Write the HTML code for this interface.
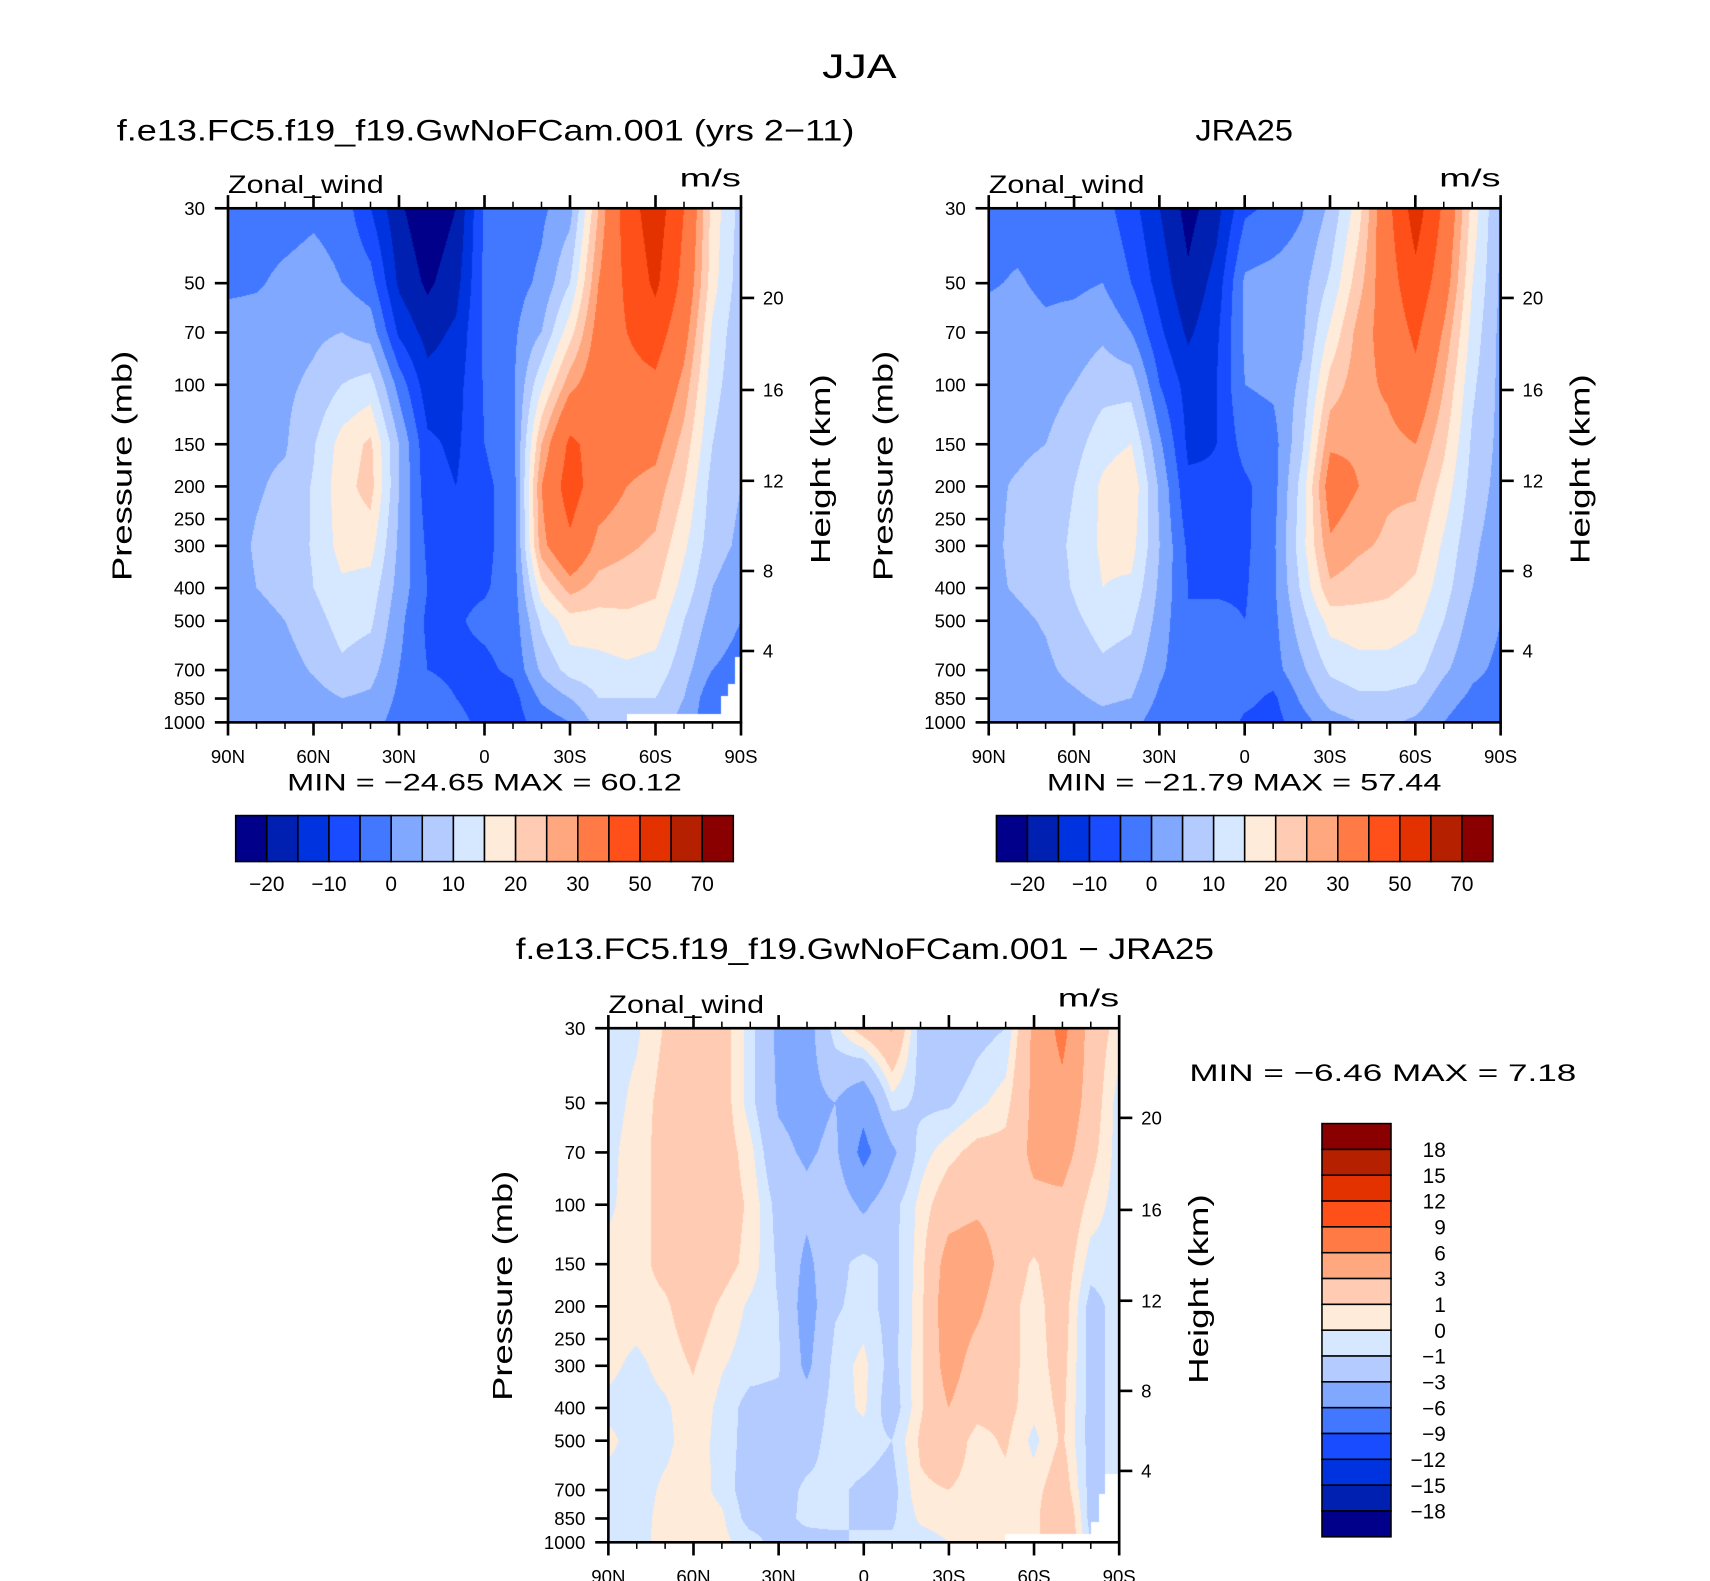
<!DOCTYPE html>
<html><head><meta charset="utf-8">
<style>
html,body{margin:0;padding:0;background:#fff;}
#root{position:relative;width:1710px;height:1581px;overflow:hidden;background:#fff;}
canvas{position:absolute;display:block;}
svg{position:absolute;left:0;top:0;}
text{font-family:"Liberation Sans",sans-serif;fill:#000;}
</style></head>
<body>
<div id="root">
<canvas id="c1"></canvas>
<canvas id="c2"></canvas>
<canvas id="c3"></canvas>
<svg id="svg" width="1710" height="1581" viewBox="0 0 1560 1442.3" preserveAspectRatio="none"></svg>
</div>
<script>
// ---------- data ----------
const lats = [90,80,70,60,50,40,30,20,10,0,-10,-20,-30,-40,-50,-60,-70,-80,-90];
const levels = [30,50,70,100,150,200,300,400,500,700,850,1000];
// model zonal wind, one row per latitude (90N..90S), values per level (30..1000 mb)
const modelU = [
[-2,-1,2,3,3,3,3,3,2.5,2,2,2],
[-2,-0.5,2,3,4,4.5,5.5,5,4,3,2,1],
[-2,1,3,4,4.5,6,7,6,5,3,2,0.5],
[-1,2,4,6,9.5,10.5,10.5,10,8,5.5,3,1],
[-2,0,5,10,17,18,17,14,12,9,5,2],
[-10,-3,3,12,21,22,17,13,11,7,4,2],
[-19,-16,-11,-2,5,5,4,3,1.5,0,-1,-2],
[-24,-21,-17,-13,-9,-8,-6,-5,-6,-5,-3,-3],
[-20,-17,-14,-12,-11,-10,-7,-6,-5.5,-6,-5,-3],
[-4,-4,-4,-4.5,-5,-6,-6,-5.5,-4,-6,-8,-7],
[-3,-2,-1,-1,-2,-3,-3,-3,-3,-4,-7,-7],
[-1,1,5,14,25,30,28,18,11,6,1,-3],
[3,10,18,28,42,45,38,27,18,12,5,0],
[25,30,33,35,36,34,28,23,18,13,10,7],
[45,42,40,37,33,30,26,22,19,14,10,7],
[56,52,45,38,32,28,24,21,18,13,10,8],
[40,37,33,28,23,20,16,13,10,7,5,3],
[18,17,14,12,10,8,7,5,3,0,-4,-4],
[8,7,6,6,5,5,4,2,0,-2,-4,-4]
];
const jraU = [
[-2,-0.5,2,3,4,4,4,4,3,3,2,2],
[-2,0.5,2,3,4,5.5,6,5.5,4,3,2,2],
[-2,-1,1,3,5,7,7.5,7,5.5,4,3,2],
[-2,-1,2,5,8,10,11,10.5,9,6.5,4,2],
[-3,0,4,8,13,16,16,15,12,9,6,3],
[-8,-5,0,8,15,19,17,14,11,7.5,5,2],
[-15,-12,-9,-5,1,4,5,4,3,1,-1,-3],
[-22,-19,-16,-12,-11,-9,-6,-5,-5,-4,-3.5,-3],
[-17,-13,-11,-10,-10,-9.5,-7,-5.5,-4,-3,-2,-1],
[-6,1,1,0,-3,-6,-6,-5.5,-5,-3,-3.5,-6],
[-4,2,2,1,-2,-2,-1,-1,-1.5,-2,-6,-7],
[-0.5,3,4,6,9,12,13,11,8,4,1,-2],
[6,11,16,22,29,34,29,24,17,11,7,3],
[18,23,27,28,29,30,26,22,18,13,9,5],
[37,35,33,31,28,26,24,21,18,13,9,6],
[55,47,42,37,30,26,22,19,16,12,8,4],
[38,34,29,25,21,18,14,12,10,6,2,0],
[18,15,13,11,9,8,6,5,3,1,-1,-3],
[4,4,3.5,3.5,3.5,3,2,1.5,0,-1,-2,-2]
];
const diffU = [
[-0.5,-0.5,-0.3,-0.2,0.3,0.5,0.3,-0.3,0.3,-0.5,-0.5,-0.5],
[-0.2,0.3,0.5,0.5,0.6,0.6,-0.3,-0.5,-0.5,-0.5,-0.5,-0.5],
[1.1,1.5,1.5,1.5,1.4,0.8,0.4,-0.2,-0.3,0.2,0.4,0.5],
[2,2,2,2,2,1.8,1.1,0.7,0.6,0.5,0.5,0.8],
[1.8,1.8,1.8,1.8,1.6,0.8,0.1,-0.3,-0.4,-0.3,0.2,0.3],
[-0.5,-0.5,0.4,0.8,0.6,-0.2,-0.5,-1.5,-1.5,-1.8,-1.5,-0.5],
[-3.5,-3.2,-2.5,-1.5,-1.2,-1,-0.8,-1.5,-1.8,-1.5,-1.5,-1.5],
[-4,-3.7,-3.3,-2.5,-3.5,-4,-3.5,-2,-1.5,-0.8,-0.7,-1.5],
[-0.3,-3,-2.5,-1.5,-1.5,-1.2,-0.5,-0.5,-0.5,-0.8,-0.5,-1.5],
[1.8,-5,-7,-3.5,-0.5,-0.5,0.3,0.2,-0.5,-1.2,-1.5,-0.5],
[3.2,-0.5,-3.5,-1.5,-1.5,-1.5,-1.5,-1.8,-1,-1.5,-1.2,-0.8],
[-1.5,-1.3,-0.5,0.3,0.5,0.6,0.7,0.8,1.2,0.8,0.2,-0.5],
[-2.5,-1.2,0.6,2,4,4.5,4,3,2,1,0.5,0],
[-1.5,-0.3,1.5,2.5,4.5,3.5,2,1.5,0.5,0.5,0.5,0.3],
[-1,0.5,1.5,2,2,1.5,1.5,1.5,1.2,0.6,0.5,0.5],
[3.5,3.5,3.5,2.5,0.8,0.5,0.5,0.3,-0.3,0.5,0.5,0.5],
[7,5,4,2.5,2,1.8,1.5,1.3,1.2,2,3,3],
[2,2,1.5,0.6,-0.5,-1.5,-1.5,-1.5,-1.5,-1.5,-1.5,-1],
[0.5,-0.5,-0.5,-0.5,-0.5,-0.5,-0.5,-0.5,-0.5,-0.5,-0.5,-0.5]
];
const fullLevels = [-20,-15,-10,-5,0,5,10,15,20,25,30,40,50,60,70];
const diffLevels = [-18,-15,-12,-9,-6,-3,-1,0,1,3,6,9,12,15,18];
const fullBarLabels = ["−20","−10","0","10","20","30","50","70"];
const diffBarLabels = ["−18","−15","−12","−9","−6","−3","−1","0","1","3","6","9","12","15","18"];
const colors = ["#00008a","#0020b2","#0033e0","#1a4cff","#4277ff","#80a8ff","#b3cbff","#d6e8ff","#ffebd9","#ffccb3","#ffa880","#ff7a45","#ff5019","#e33200","#b52000","#8a0000"];
const pressTicks = [30,50,70,100,150,200,250,300,400,500,700,850,1000];
const latTickLabels = ["90N","60N","30N","0","30S","60S","90S"];
const kmTicks = [4,8,12,16,20];
const kmPress = [614.5,356,192.5,103.6,55.3];
// missing-data masks: [latFrom, latTo, pressureFrom]
const mask1 = [[-50,-90,950],[-83,-90,840],[-85.5,-90,770],[-88,-90,640]];
const mask3 = [[-50,-90,950],[-80,-90,870],[-83,-90,720],[-85,-90,630]];

// ---------- layout (display units, viewBox 1560 wide) ----------
const S = 1710/1560;
const NS = "http://www.w3.org/2000/svg";
const svg = document.getElementById('svg');
const panels = [
 {id:'c1', x:208, y:190, w:468, h:469, data:modelU, lev:fullLevels, mask:mask1, name:'model'},
 {id:'c2', x:902, y:190, w:467, h:469, data:jraU, lev:fullLevels, mask:[], name:'jra25'},
 {id:'c3', x:555, y:938, w:466, h:469, data:diffU, lev:diffLevels, mask:mask3, name:'difference'}
];
const LP0 = Math.log10(30), LP1 = Math.log10(1000);
function yOf(p, P){ return P.y + (Math.log10(p)-LP0)/(LP1-LP0)*P.h; }
function xOf(lat, P){ return P.x + (90-lat)/180*P.w; }
const logLev = levels.map(v=>Math.log10(v));

function colorIndex(v, lev){ let i=0; while(i<lev.length && v>=lev[i]) i++; return i; }
function hex(c){ return [parseInt(c.substr(1,2),16),parseInt(c.substr(3,2),16),parseInt(c.substr(5,2),16)]; }
const rgb = colors.map(hex);

function drawField(P){
  const cv = document.getElementById(P.id);
  const W = Math.round(P.w*S), H = Math.round(P.h*S);
  cv.width=W; cv.height=H;
  cv.style.left=(P.x*S)+'px'; cv.style.top=(P.y*S)+'px';
  cv.style.width=W+'px'; cv.style.height=H+'px';
  const ctx = cv.getContext('2d');
  const img = ctx.createImageData(W,H);
  for(let py=0; py<H; py++){
    const lp = LP0 + (py+0.5)/H*(LP1-LP0);
    const p = Math.pow(10,lp);
    let j=0; while(j<levels.length-2 && lp>logLev[j+1]) j++;
    const ty = Math.max(0,Math.min(1,(lp-logLev[j])/(logLev[j+1]-logLev[j])));
    for(let px=0; px<W; px++){
      const lat = 90 - (px+0.5)/W*180;
      const fi = (90-lat)/10;
      let i = Math.min(lats.length-2, Math.floor(fi));
      const tx = fi - i;
      const d = P.data;
      const v = (1-tx)*((1-ty)*d[i][j]+ty*d[i][j+1]) + tx*((1-ty)*d[i+1][j]+ty*d[i+1][j+1]);
      let c = rgb[colorIndex(v,P.lev)];
      for(const m of P.mask){ if(lat<=m[0] && lat>=m[1] && p>=m[2]) { c=[255,255,255]; break; } }
      const k=(py*W+px)*4;
      img.data[k]=c[0]; img.data[k+1]=c[1]; img.data[k+2]=c[2]; img.data[k+3]=255;
    }
  }
  ctx.putImageData(img,0,0);
}

function el(tag, attrs, parent){
  const e = document.createElementNS(NS, tag);
  for(const k in attrs) e.setAttribute(k, attrs[k]);
  (parent||svg).appendChild(e);
  return e;
}
function txt(str, x, y, size, anchor, parent, extra){
  const t = el('text', Object.assign({x:x, y:y, 'font-size':size, 'text-anchor':anchor||'start'}, extra||{}), parent);
  t.textContent = str;
  return t;
}

function drawAxes(P, titleRight){
  const g = el('g', {});
  
  
  // frame
  const fr = el('rect', {x:P.x, y:P.y, width:P.w, height:P.h, fill:'none', stroke:'#000', 'stroke-width':2.4}, g);
  
  
  // lat ticks
  for(let k=0;k<=18;k++){
    const lat = 90-k*10;
    const x = xOf(lat,P);
    const major = (k%3===0);
    const L = major?12:6;
    el('line',{x1:x,y1:P.y+P.h,x2:x,y2:P.y+P.h+L,stroke:'#000','stroke-width':major?2.4:1.4},g);
    el('line',{x1:x,y1:P.y,x2:x,y2:P.y-L,stroke:'#000','stroke-width':major?2.4:1.4},g);
  }
  latTickLabels.forEach((s,k)=>{
    const t = txt(s, xOf(90-k*30,P), P.y+P.h+37, 17, 'middle', g);
    
    
  });
  // pressure ticks
  pressTicks.forEach(p=>{
    const y = yOf(p,P);
    el('line',{x1:P.x-12,y1:y,x2:P.x,y2:y,stroke:'#000','stroke-width':2.4},g);
    const t = txt(String(p), P.x-21, y+6, 17, 'end', g);
    
    
  });
  // height ticks
  kmTicks.forEach((km,k)=>{
    const y = yOf(kmPress[k],P);
    el('line',{x1:P.x+P.w,y1:y,x2:P.x+P.w+12,y2:y,stroke:'#000','stroke-width':2.4},g);
    const t = txt(String(km), P.x+P.w+20, y+6, 17, 'start', g);
    
    
  });
  // axis titles
  const cy = P.y + 235;
  const yl = txt('Pressure (mb)', 0, 0, 25, 'middle', g, {transform:`translate(${P.x-88},${cy}) rotate(-90)`, textLength:210, lengthAdjust:'spacingAndGlyphs'});
  
  
  const hl = txt('Height (km)', 0, 0, 25, 'middle', g, {transform:`translate(${P.x+P.w+81},${P.y+238}) rotate(-90)`, textLength:173, lengthAdjust:'spacingAndGlyphs'});
  
  
  const zl = txt('Zonal_wind', P.x, P.y-14, 23, 'start', g, {textLength:142, lengthAdjust:'spacingAndGlyphs'});
  
  
  const ul = txt('m/s', P.x+P.w, P.y-20, 23, 'end', g, {textLength:56, lengthAdjust:'spacingAndGlyphs'});
  
  
}

function hBar(x0, y0, w, h, name){
  const g = el('g', {});
  
  
  const bw = w/colors.length;
  colors.forEach((c,i)=>{
    const r = el('rect',{x:x0+i*bw,y:y0,width:bw,height:h,fill:c,stroke:'#000','stroke-width':1.4},g);
    
    
  });
  fullBarLabels.forEach((s,k)=>{
    const t = txt(s, x0+(1+2*k)*bw, y0+h+27, 19, 'middle', g);
    
    
  });
}
function vBar(x0, y0, w, h, name){
  const g = el('g', {});
  
  
  const bh = h/colors.length;
  colors.slice().reverse().forEach((c,i)=>{
    const r = el('rect',{x:x0,y:y0+i*bh,width:w,height:bh,fill:c,stroke:'#000','stroke-width':1.4},g);
    
    
  });
  diffBarLabels.slice().reverse().forEach((s,k)=>{
    const t = txt(s, x0+w+50, y0+(k+1)*bh+7, 19, 'end', g);
    
    
  });
}

panels.forEach(drawField);
panels.forEach(P=>drawAxes(P));

let t;
t = txt('JJA', 784, 71, 31, 'middle', svg, {textLength:68, lengthAdjust:'spacingAndGlyphs'});
 
t = txt('f.e13.FC5.f19_f19.GwNoFCam.001 (yrs 2−11)', 443, 128, 27, 'middle', svg, {textLength:673, lengthAdjust:'spacingAndGlyphs'});
 
t = txt('JRA25', 1135, 128, 27, 'middle', svg, {textLength:89, lengthAdjust:'spacingAndGlyphs'});
 
t = txt('f.e13.FC5.f19_f19.GwNoFCam.001 − JRA25', 789, 875, 27, 'middle', svg, {textLength:637, lengthAdjust:'spacingAndGlyphs'});
 
t = txt('MIN =  −24.65   MAX =   60.12', 442, 721, 22, 'middle', svg, {textLength:360, lengthAdjust:'spacingAndGlyphs', 'xml:space':'preserve'});
 
t = txt('MIN =  −21.79   MAX =   57.44', 1135, 721, 22, 'middle', svg, {textLength:360, lengthAdjust:'spacingAndGlyphs', 'xml:space':'preserve'});
 
t = txt('MIN =   −6.46   MAX =    7.18', 1085, 986, 22, 'start', svg, {textLength:353, lengthAdjust:'spacingAndGlyphs', 'xml:space':'preserve'});
 

hBar(215, 744, 454, 42, 'model-colorbar');
hBar(909, 744, 453, 42, 'jra25-colorbar');
vBar(1206, 1025, 63, 377, 'difference-colorbar');
</script>
</body></html>
